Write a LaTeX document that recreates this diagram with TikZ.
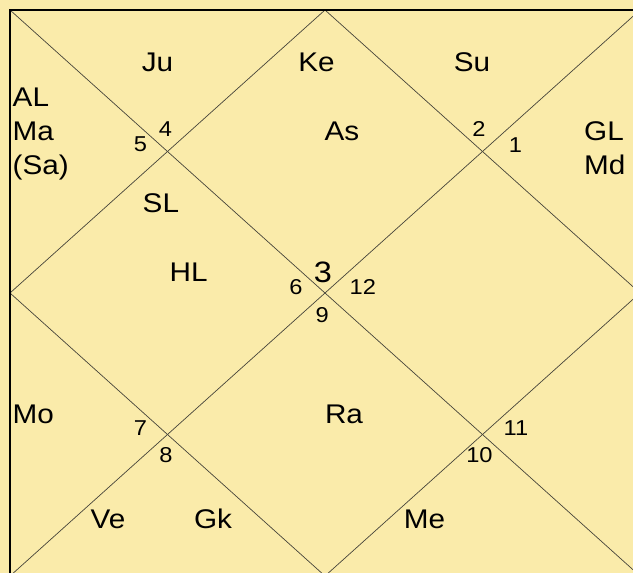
\documentclass[tikz,border=0pt]{standalone}
\usepackage{fontspec}
\usepackage{graphicx}
\setmainfont{Liberation Sans}
\definecolor{parch}{RGB}{250,235,170}
\definecolor{chartline}{RGB}{70,68,58}
\newcommand{\hstr}[1]{\scalebox{1.1}[1]{#1}}
\tikzset{
  planet/.style={font=\fontsize{27}{31}\selectfont, anchor=base, inner sep=0pt, text=black},
  planetw/.style={planet, anchor=base west},
  housenum/.style={font=\fontsize{21.5}{25}\selectfont, anchor=base, inner sep=0pt, text=black},
  lagna/.style={font=\fontsize{29.5}{34}\selectfont, anchor=base, inner sep=0pt, text=black},
  thinline/.style={draw=chartline, line width=0.7pt},
  frame/.style={draw=black, line width=2pt}
}
\begin{document}
\begin{tikzpicture}[x=1pt,y=-1pt]
\fill[parch] (0,0) rectangle (633,573);
\useasboundingbox (0,0) rectangle (633,573);
\coordinate (TL) at (10,10);
\coordinate (TR) at (640,10);
\coordinate (BL) at (10,576);
\coordinate (BR) at (640,576);
\coordinate (TM) at (325,10);
\coordinate (RM) at (640,293);
\coordinate (BM) at (325,576);
\coordinate (LM) at (10,293);
\begin{scope}
\clip (0,0) rectangle (633,573);
\draw[thinline] (TL) -- (BR);
\draw[thinline] (TR) -- (BL);
\draw[thinline] (TM) -- (RM) -- (BM) -- (LM) -- cycle;
\draw[frame] (TR) -- (TL) -- (BL);
\end{scope}
% planets
\node[planet] (ju) at (157.5,71) {\hstr{Ju}};
\node[planet] (ke) at (316.5,71) {\hstr{Ke}};
\node[planet] (su) at (472,71) {\hstr{Su}};
\node[planetw] (al) at (12.5,106) {\hstr{AL}};
\node[planetw] (ma) at (12.5,140) {\hstr{Ma}};
\node[planetw] (sa) at (12.5,174) {\hstr{(Sa)}};
\node[planet] (as) at (342,140) {\hstr{As}};
\node[planetw] (gl) at (584,140) {\hstr{GL}};
\node[planetw] (md) at (584,174) {\hstr{Md}};
\node[planetw] (sl) at (142.5,212) {\hstr{SL}};
\node[planetw] (hl) at (169.5,281.5) {\hstr{HL}};
\node[planetw] (mo) at (12.5,423) {\hstr{Mo}};
\node[planet] (ra) at (344,423) {\hstr{Ra}};
\node[planet] (ve) at (108,528) {\hstr{Ve}};
\node[planet] (gk) at (213,528) {\hstr{Gk}};
\node[planet] (me) at (424.5,528) {\hstr{Me}};
% house numbers
\node[lagna] (h3) at (323,282.5) {\hstr{3}};
\node[housenum] (h1) at (515.5,152.5) {\hstr{1}};
\node[housenum] (h2) at (479,136) {\hstr{2}};
\node[housenum] (h4) at (165.5,136) {\hstr{4}};
\node[housenum] (h5) at (140.5,151.5) {\hstr{5}};
\node[housenum] (h6) at (296,294) {\hstr{6}};
\node[housenum] (h7) at (140.5,435.5) {\hstr{7}};
\node[housenum] (h8) at (166,462) {\hstr{8}};
\node[housenum] (h9) at (322.3,322) {\hstr{9}};
\node[housenum] (h10) at (479.5,462) {\hstr{10}};
\node[housenum] (h11) at (516,435.5) {\hstr{11}};
\node[housenum] (h12) at (362.8,294) {\hstr{12}};
\end{tikzpicture}
\end{document}
